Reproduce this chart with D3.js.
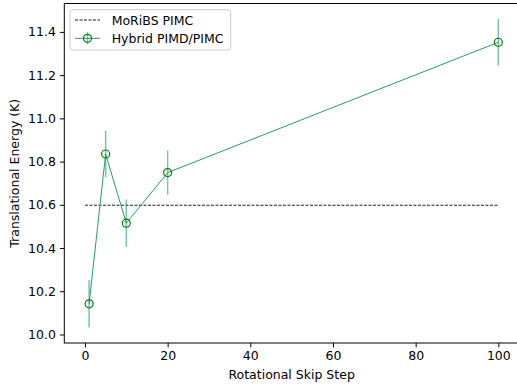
<!DOCTYPE html>
<html><head><meta charset="utf-8">
<script src="https://cdn.jsdelivr.net/npm/d3@7"></script>
<style>body{margin:0;background:#fff}svg{display:block}text{font-family:"DejaVu Sans",sans-serif}</style>
</head><body>
<svg id="c" width="517" height="389"></svg>
<script>
const skipSteps = [1, 5, 10, 20, 100];
const energies = [10.142, 10.835, 10.515, 10.749, 11.352];
const errors = [0.11, 0.107, 0.11, 0.103, 0.108];
const reference = 10.598;
const refRange = [0, 100];
const xTicks = [0, 20, 40, 60, 80, 100];
const yTicks = [10.0, 10.2, 10.4, 10.6, 10.8, 11.0, 11.2, 11.4];
const seriesNames = ["MoRiBS PIMC", "Hybrid PIMD/PIMC"];

const lineColor = "#1f9e76", markerColor = "#008000";
const svg = d3.select("#c");
const L = 64.3, R = 519, T = 3.5, B = 343;
const x = d3.scaleLinear().domain([-5, 105]).range([L, R]);
const lo = d3.min(energies.map((v,i)=>v-errors[i])), hi = d3.max(energies.map((v,i)=>v+errors[i]));
const m = (hi-lo)*0.05;
const y = d3.scaleLinear().domain([lo-m, hi+m]).range([B, T]);

// reference line
svg.append("line").attr("x1", x(refRange[0])).attr("x2", x(refRange[1]))
  .attr("y1", y(reference)).attr("y2", y(reference))
  .attr("stroke", "#000").attr("stroke-width", 0.9).attr("stroke-dasharray", "3,1.5");

// series line
const pts = skipSteps.map((s,i)=>[s, energies[i], errors[i]]);
svg.append("path").datum(pts)
  .attr("d", d3.line().x(d=>x(d[0])).y(d=>y(d[1])))
  .attr("fill", "none").attr("stroke", lineColor).attr("stroke-width", 1);
// error bars
svg.selectAll(".eb").data(pts).join("line")
  .attr("x1", d=>x(d[0])).attr("x2", d=>x(d[0]))
  .attr("y1", d=>y(d[1]-d[2])).attr("y2", d=>y(d[1]+d[2]))
  .attr("stroke", lineColor).attr("stroke-opacity", 0.6).attr("stroke-width", 1.5);
// markers
svg.selectAll(".mk").data(pts).join("circle")
  .attr("cx", d=>x(d[0])).attr("cy", d=>y(d[1])).attr("r", 4)
  .attr("fill", "none").attr("stroke", markerColor).attr("stroke-width", 1.2);

// axes
const xa = svg.append("g").attr("transform", `translate(0,${B})`)
  .call(d3.axisBottom(x).tickValues(xTicks).tickSize(4.4).tickPadding(4).tickFormat(d3.format("d")));
const ya = svg.append("g").attr("transform", `translate(${L},0)`)
  .call(d3.axisLeft(y).tickValues(yTicks).tickSize(4.4).tickPadding(4).tickFormat(d3.format(".1f")));
[xa, ya].forEach(g=>{
  g.selectAll("text").attr("font-size", 12.5).attr("fill", "#000").attr("font-family", "DejaVu Sans");
  g.selectAll("line").attr("stroke", "#000").attr("stroke-width", 1);
  g.select(".domain").remove();
});
// spines
svg.append("rect").attr("x", L).attr("y", T).attr("width", R-L).attr("height", B-T)
  .attr("fill", "none").attr("stroke", "#000").attr("stroke-width", 1);

// labels
svg.append("text").attr("x", (L+R)/2).attr("y", 379).attr("text-anchor", "middle")
  .attr("font-size", 12.5).text("Rotational Skip Step");
svg.append("text").attr("transform", `translate(19,${(T+B)/2}) rotate(-90)`).attr("text-anchor", "middle")
  .attr("font-size", 12.5).text("Translational Energy (K)");

// legend
const lg = svg.append("g");
lg.append("rect").attr("x", 70).attr("y", 9.7).attr("width", 160.7).attr("height", 40.3).attr("rx", 3)
  .attr("fill", "#fff").attr("fill-opacity", 0.8).attr("stroke", "#ccc").attr("stroke-width", 1);
lg.append("line").attr("x1", 75).attr("x2", 100).attr("y1", 20).attr("y2", 20)
  .attr("stroke", "#000").attr("stroke-width", 0.9).attr("stroke-dasharray", "3,1.5");
lg.append("line").attr("x1", 75).attr("x2", 100).attr("y1", 38.3).attr("y2", 38.3)
  .attr("stroke", lineColor).attr("stroke-width", 1);
lg.append("line").attr("x1", 87.5).attr("x2", 87.5).attr("y1", 32).attr("y2", 44.6)
  .attr("stroke", lineColor).attr("stroke-opacity", 0.6).attr("stroke-width", 1.5);
lg.append("circle").attr("cx", 87.5).attr("cy", 38.3).attr("r", 4)
  .attr("fill", "none").attr("stroke", markerColor).attr("stroke-width", 1.2);
lg.selectAll(".lt").data(seriesNames).join("text")
  .attr("x", 111.7).attr("y", (d,i)=>i===0?20:38.3).attr("dy", "0.36em")
  .attr("font-size", 12.5).text(d=>d);
</script>
</body></html>
